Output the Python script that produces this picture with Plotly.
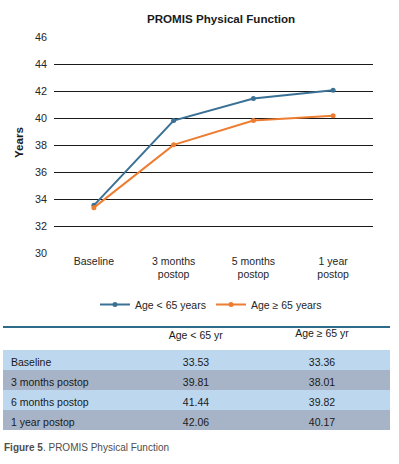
import plotly.graph_objects as go

W, H = 399, 464

categories = ["Baseline", "3 months<br>postop", "5 months<br>postop", "1 year<br>postop"]
series_names = ["Age < 65 years", "Age ≥ 65 years"]
under65 = [33.53, 39.81, 41.44, 42.06]
over65 = [33.36, 38.01, 39.82, 40.17]
y_ticks = [30, 32, 34, 36, 38, 40, 42, 44, 46]

table_rows = ["Baseline", "3 months postop", "6 months postop", "1 year postop"]
table_headers = ["", "Age < 65 yr", "Age ≥ 65 yr"]
table_under65 = ["33.53", "39.81", "41.44", "42.06"]
table_over65 = ["33.36", "38.01", "39.82", "40.17"]

BLUE = "#3A7194"
ORANGE = "#ED7D31"
FONT = "Liberation Sans, Arial, sans-serif"
FS = 10.5

def px(x):
    return x / W

def py(y):
    return 1 - y / H

fig = go.Figure()
fig.add_trace(go.Scatter(
    x=categories, y=under65, name=series_names[0], mode="lines+markers", legend="legend",
    line=dict(color=BLUE, width=2), marker=dict(size=5, color=BLUE)))
fig.add_trace(go.Scatter(
    x=categories, y=over65, name=series_names[1], mode="lines+markers", legend="legend2",
    line=dict(color=ORANGE, width=2), marker=dict(size=5, color=ORANGE)))

row_fill = ["#BDD7EE", "#A7B4C7", "#BDD7EE", "#A7B4C7"]
fig.add_trace(go.Table(
    domain=dict(x=[px(3), px(390)], y=[py(437), py(321)]),
    columnwidth=[135, 116, 136],
    header=dict(values=table_headers, fill_color="white",
                line=dict(color="white", width=0),
                align=["left", "center", "center"], height=29,
                font=dict(family=FONT, size=FS, color="#1a1a1a")),
    cells=dict(values=[table_rows, table_under65, table_over65],
               fill_color=[row_fill, row_fill, row_fill],
               line=dict(color="rgba(255,255,255,0)", width=0),
               align=["left", "center", "center"], height=20,
               font=dict(family=FONT, size=FS, color="#1a1a1a")),
))

legend_common = dict(orientation="h", yanchor="top", xanchor="left", y=py(290),
                     font=dict(family=FONT, size=FS, color="#262626"),
                     itemwidth=30, bgcolor="rgba(0,0,0,0)")

fig.update_layout(
    width=W, height=H,
    margin=dict(l=0, r=0, t=0, b=0, autoexpand=False),
    paper_bgcolor="white", plot_bgcolor="white",
    font=dict(family=FONT, size=FS, color="#262626"),
    showlegend=True,
    legend=dict(x=px(95), **legend_common),
    legend2=dict(x=px(211), **legend_common),
    xaxis=dict(domain=[px(54), px(373)], showgrid=False, zeroline=False, automargin=False,
               showline=False, ticks="", tickfont=dict(size=FS, color="#262626"),
               range=[-0.5, 3.5]),
    yaxis=dict(domain=[py(253), py(37)], range=[30, 46], tickvals=y_ticks, automargin=False,
               showgrid=True, gridcolor="#1a1a1a", gridwidth=1, zeroline=False,
               showline=False, ticks="", tickfont=dict(size=10.8, color="#262626"),
               ticklabelstandoff=6),
    annotations=[
        dict(text="<b>PROMIS Physical Function</b>", x=px(221), y=py(18), xref="paper", yref="paper",
             showarrow=False, font=dict(family=FONT, size=11.6, color="#1a1a1a"),
             xanchor="center", yanchor="middle"),
        dict(text="<b>Years</b>", x=px(18), y=py(143), xref="paper", yref="paper", textangle=-90,
             showarrow=False, font=dict(family=FONT, size=11.6, color="#1a1a1a"),
             xanchor="center", yanchor="middle"),
        dict(text="<b>Figure 5</b>. PROMIS Physical Function", x=px(2), y=py(447), xref="paper", yref="paper",
             showarrow=False, font=dict(family="Liberation Sans Narrow, Arial Narrow, sans-serif", size=10, color="#4d4d4d"),
             xanchor="left", yanchor="middle"),
    ],
    shapes=[
        dict(type="line", xref="paper", yref="paper", x0=px(3), x1=px(390), y0=py(327), y1=py(327),
             line=dict(color="#2E6A8A", width=2)),
    ],
)

fig.write_html("out.html", config={"displayModeBar": False},
               post_script="document.body.style.margin='0';document.body.style.overflow='hidden';")
